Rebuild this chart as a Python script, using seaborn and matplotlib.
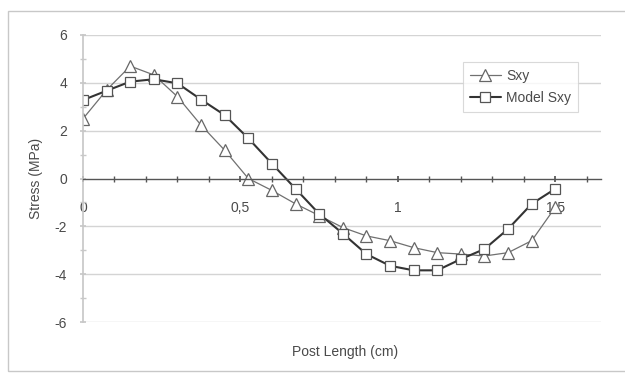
import matplotlib
matplotlib.use("Agg")
import matplotlib.pyplot as plt
import seaborn as sns
import numpy as np
from matplotlib.patches import Rectangle
from matplotlib.ticker import MultipleLocator, FixedLocator

# post length positions (cm)
post_length = [0, 0.075, 0.15, 0.225, 0.3, 0.375, 0.45, 0.525, 0.6, 0.675, 0.75,
               0.825, 0.9, 0.975, 1.05, 1.125, 1.2, 1.275, 1.35, 1.425, 1.5]

# measured shear stress (MPa)
sxy = [2.5, 3.7, 4.7, 4.33, 3.42, 2.23, 1.18, 0.0, -0.5, -1.06, -1.55,
       -2.05, -2.4, -2.6, -2.89, -3.1, -3.16, -3.24, -3.1, -2.6, -1.2]

# model shear stress (MPa)
model_sxy = [3.28, 3.67, 4.05, 4.15, 3.98, 3.3, 2.65, 1.68, 0.62, -0.43, -1.48,
             -2.3, -3.16, -3.65, -3.84, -3.84, -3.37, -2.95, -2.11, -1.06, -0.43]

x_ticks = [0, 0.5, 1, 1.5]
x_tick_labels = ["0", "0,5", "1", "1,5"]
y_ticks = [-6, -4, -2, 0, 2, 4, 6]

sns.set_theme(style="white")
plt.rcParams['font.family'] = ['Liberation Sans', 'DejaVu Sans']

fig = plt.figure(figsize=(6.25, 3.73), dpi=100)
ax = fig.add_axes([83 / 625, 1 - 322 / 373, (601 - 83) / 625, (322 - 35) / 373])

# outer chart frame
fig.patches.append(Rectangle((8 / 625, 2 / 373), 1.0, (371 - 11) / 373,
                             transform=fig.transFigure, fill=False,
                             edgecolor="#c8c8c8", linewidth=1.0))

sns.lineplot(x=post_length, y=sxy, ax=ax, color="#707070", linewidth=0.9,
             marker="^", markersize=8, markerfacecolor="white",
             markeredgecolor="#666666", markeredgewidth=0.9, label="Sxy")
sns.lineplot(x=post_length, y=model_sxy, ax=ax, color="#333333", linewidth=1.5,
             marker="s", markersize=7, markerfacecolor="white",
             markeredgecolor="#555555", markeredgewidth=0.9, label="Model Sxy")

ax.set_xlim(0, 1.645)
ax.set_ylim(-6, 6)

# horizontal gridlines
for v in y_ticks:
    if v != 0:
        ax.axhline(v, color="#d4d4d4", linewidth=1.0, zorder=0)

# x axis crossing at zero
for s in ["top", "right"]:
    ax.spines[s].set_visible(False)
ax.spines["bottom"].set_position(("data", 0))
ax.spines["bottom"].set_color("#555555")
ax.spines["bottom"].set_linewidth(1.0)
ax.spines["left"].set_color("#c8c8c8")

ax.xaxis.set_major_locator(FixedLocator(x_ticks))
ax.set_xticklabels(x_tick_labels)
ax.xaxis.set_minor_locator(MultipleLocator(0.1))
ax.tick_params(axis="x", which="both", direction="inout", length=5,
               color="#555555", bottom=True)
ax.tick_params(axis="x", which="major", pad=14, labelsize=10, labelcolor="#4a4a4a")

ax.set_yticks(y_ticks)
ax.set_yticklabels([str(v) for v in y_ticks])
ax.yaxis.set_minor_locator(MultipleLocator(1))
ax.tick_params(axis="y", which="both", direction="inout", length=5,
               color="#c8c8c8", left=True)
ax.tick_params(axis="y", which="major", pad=9, labelsize=10, labelcolor="#4a4a4a")

ax.set_xlabel("")
ax.set_ylabel("Stress (MPa)", fontsize=10, color="#4a4a4a")
ax.yaxis.set_label_coords(-0.077, 0.5)
fig.text((83 + 601) / 2 / 625 + 0.005, 1 - 352 / 373, "Post Length (cm)",
         ha="center", va="center", fontsize=10, color="#4a4a4a")

leg = ax.legend(loc="upper left", bbox_to_anchor=((463 - 83) / 518, 1 - (62 - 35) / 287),
                frameon=True, fontsize=10, handlelength=2.2, handletextpad=0.4,
                borderpad=0.5, labelspacing=0.6, fancybox=False, borderaxespad=0)
leg.get_frame().set_edgecolor("#d0d0d0")
leg.get_frame().set_linewidth(0.8)
for t in leg.get_texts():
    t.set_color("#4a4a4a")

fig.savefig("out.png", dpi=100)
